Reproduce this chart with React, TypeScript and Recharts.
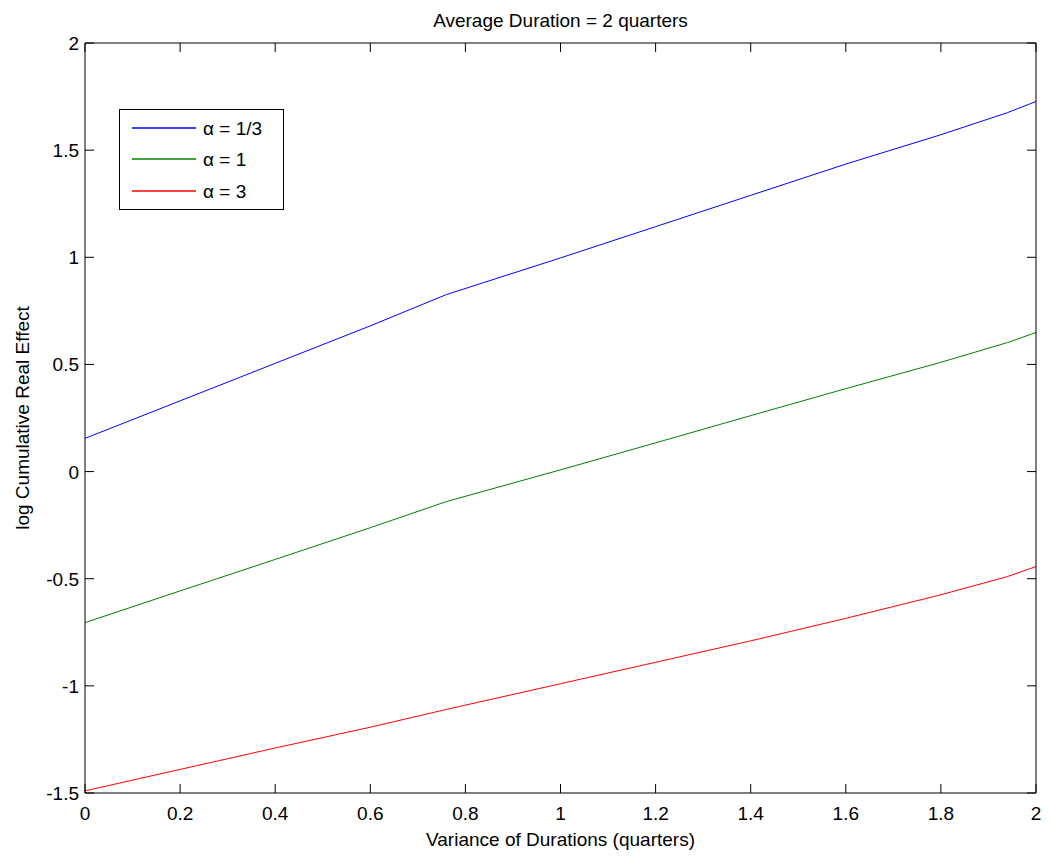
import { LineChart, Line, XAxis, YAxis, Legend, Label } from 'recharts';

const variance = [0, 0.2, 0.4, 0.6, 0.76, 1.0, 1.2, 1.4, 1.6, 1.8, 1.94, 2.0];
const alphaThird = [0.155, 0.33, 0.505, 0.68, 0.826, 0.997, 1.143, 1.289, 1.435, 1.572, 1.675, 1.727];
const alphaOne = [-0.705, -0.557, -0.41, -0.262, -0.14, 0.008, 0.134, 0.261, 0.387, 0.51, 0.602, 0.649];
const alphaThree = [-1.49, -1.39, -1.29, -1.193, -1.11, -0.99, -0.89, -0.79, -0.685, -0.575, -0.49, -0.443];

const seriesNames = ['α = 1/3', 'α = 1', 'α = 3'];
const seriesColors = ['#0000ff', '#008000', '#ff0000'];
const xTicks = [0, 0.2, 0.4, 0.6, 0.8, 1, 1.2, 1.4, 1.6, 1.8, 2];
const yTicks = [-1.5, -1, -0.5, 0, 0.5, 1, 1.5, 2];

const data = variance.map((v, i) => ({
  v,
  a1: alphaThird[i],
  a2: alphaOne[i],
  a3: alphaThree[i],
}));

const font = '"Liberation Sans", Arial, sans-serif';
const TICK_LEN = 9;

const BottomTick = ({ x, y, payload }: any) => (
  <g>
    <line x1={x} y1={y} x2={x} y2={y - TICK_LEN} stroke="#000" />
    <text x={x} y={y + 27} textAnchor="middle" fontSize={19} fontFamily={font} fill="#000">
      {String(payload.value)}
    </text>
  </g>
);

const TopTick = ({ x, y }: any) => <line x1={x} y1={y} x2={x} y2={y + TICK_LEN} stroke="#000" />;

const LeftTick = ({ x, y, payload }: any) => (
  <g>
    <line x1={x} y1={y} x2={x + TICK_LEN} y2={y} stroke="#000" />
    <text x={x - 6} y={y + 7} textAnchor="end" fontSize={19} fontFamily={font} fill="#000">
      {String(payload.value)}
    </text>
  </g>
);

const RightTick = ({ x, y }: any) => <line x1={x} y1={y} x2={x - TICK_LEN} y2={y} stroke="#000" />;

// legend drawn straight from the series names/colours, MATLAB-style box
const LegendBox = () => (
  <svg width={165} height={101} style={{ display: 'block' }}>
    <rect x={0.5} y={0.5} width={164} height={100} fill="#fff" stroke="#000" />
    {seriesNames.map((name, i) => {
      const cy = [19, 50, 82][i];
      return (
        <g key={name}>
          <line x1={13} x2={77} y1={cy} y2={cy} stroke={seriesColors[i]} strokeWidth={1.3} />
          <text x={84} y={cy + 7} fontSize={19} fontFamily={font} fill="#000">
            {name}
          </text>
        </g>
      );
    })}
  </svg>
);

export default function App() {
  return (
    <div style={{ position: 'absolute', left: 0, top: 0, width: 1049, height: 857, background: '#fff' }}>
      <LineChart width={1049} height={857} data={data} margin={{ top: 42, right: 12, left: 0, bottom: 0 }}>
        <XAxis
          xAxisId="bottom"
          dataKey="v"
          type="number"
          domain={[0, 2]}
          ticks={xTicks}
          height={64}
          tickSize={0}
          tickMargin={0}
          tickLine={false}
          stroke="#000"
          tick={<BottomTick />}
          interval={0}
        >
          <Label
            value="Variance of Durations (quarters)"
            position="insideBottom"
            offset={11}
            style={{ fontFamily: font, fontSize: 19, fill: '#000' }}
          />
        </XAxis>
        <XAxis
          xAxisId="top"
          orientation="top"
          dataKey="v"
          type="number"
          domain={[0, 2]}
          ticks={xTicks}
          height={1}
          tickSize={0}
          tickMargin={0}
          tickLine={false}
          stroke="#000"
          tick={<TopTick />}
          interval={0}
          allowDataOverflow
        >
          <Label
            value="Average Duration = 2 quarters"
            position="top"
            offset={15}
            style={{ fontFamily: font, fontSize: 19, fill: '#000' }}
          />
        </XAxis>
        <YAxis
          yAxisId="left"
          type="number"
          domain={[-1.5, 2]}
          ticks={yTicks}
          width={85}
          tickSize={0}
          tickMargin={0}
          tickLine={false}
          stroke="#000"
          tick={<LeftTick />}
          interval={0}
          allowDataOverflow
        >
          <Label
            value="log Cumulative Real Effect"
            angle={-90}
            position="insideLeft"
            offset={22}
            style={{ fontFamily: font, fontSize: 19, fill: '#000', textAnchor: 'middle' }}
          />
        </YAxis>
        <YAxis
          yAxisId="right"
          orientation="right"
          type="number"
          domain={[-1.5, 2]}
          ticks={yTicks}
          width={1}
          tickSize={0}
          tickMargin={0}
          tickLine={false}
          stroke="#000"
          tick={<RightTick />}
          interval={0}
          allowDataOverflow
        />
        <Legend
          layout="vertical"
          align="center"
          verticalAlign="middle"
          content={<LegendBox />}
          wrapperStyle={{ position: 'absolute', left: 119, top: 109, width: 165, height: 101 }}
        />
        <Line xAxisId="bottom" yAxisId="left" type="linear" dataKey="a1" name={seriesNames[0]} stroke={seriesColors[0]} strokeWidth={1} dot={false} isAnimationActive={false} />
        <Line xAxisId="bottom" yAxisId="left" type="linear" dataKey="a2" name={seriesNames[1]} stroke={seriesColors[1]} strokeWidth={1} dot={false} isAnimationActive={false} />
        <Line xAxisId="bottom" yAxisId="left" type="linear" dataKey="a3" name={seriesNames[2]} stroke={seriesColors[2]} strokeWidth={1} dot={false} isAnimationActive={false} />
        <Line xAxisId="top" yAxisId="right" dataKey="a1" name="hidden" stroke="none" dot={false} legendType="none" isAnimationActive={false} />
      </LineChart>
    </div>
  );
}
